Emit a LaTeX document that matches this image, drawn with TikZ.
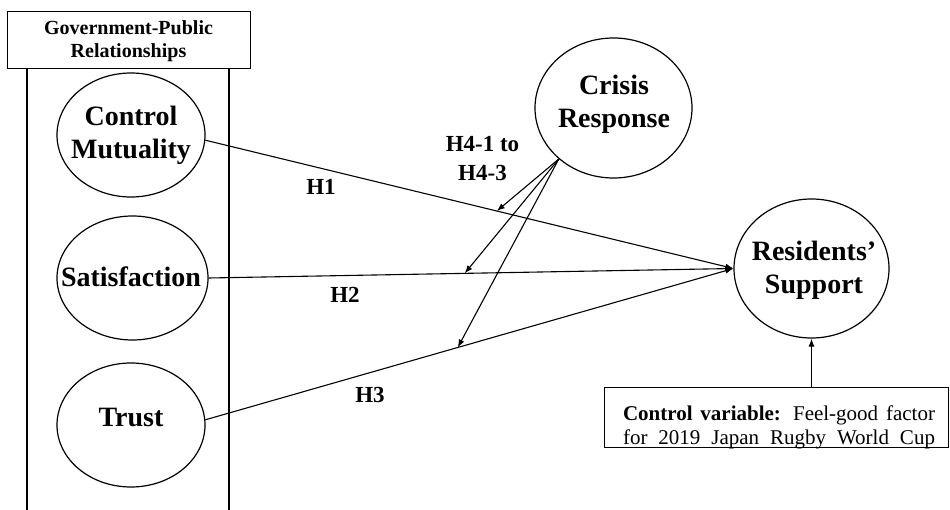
\documentclass[tikz,border=0pt]{standalone}
\usepackage{fontspec}
\setmainfont{Liberation Serif}
\usetikzlibrary{shapes.geometric,arrows.meta}
\begin{document}
\begin{tikzpicture}[x=1pt,y=-1pt,
  latent/.style={draw, ellipse, line width=1.2pt, inner sep=0pt},
  frame/.style={draw, line width=1.2pt, inner sep=0pt, anchor=north west},
  biglbl/.style={font=\fontsize{28}{33}\selectfont\bfseries, align=center, inner sep=0pt},
  hlbl/.style={font=\fontsize{23}{29.3}\selectfont\bfseries, align=center, inner sep=0pt},
  arr/.style={-{Latex[length=8pt,width=6pt]}, line width=1.1pt},
  plain/.style={line width=1.2pt}
]
\useasboundingbox (0,0) rectangle (950,510);

% header and frame
\node[frame, minimum width=243pt, minimum height=57pt] (hdr) at (7,11) {};
\node[font=\fontsize{20}{23}\selectfont\bfseries, align=center, inner sep=0pt] (hdrtext) at (128.5,41) {Government-Public\\Relationships};
\coordinate (lb) at (27,510);
\coordinate (rb) at (229,510);
\draw[plain] (lb |- hdr.south) -- (lb);
\draw[plain] (rb |- hdr.south) -- (rb);

% latent variables
\node[latent, minimum width=148pt, minimum height=124pt] (cm) at (131,135) {};
\node[biglbl] (cmt) at (131,135) {Control\\Mutuality};
\node[latent, minimum width=151pt, minimum height=124pt] (sat) at (132.5,278) {};
\node[biglbl] (satt) at (131,277) {Satisfaction};
\node[latent, minimum width=148pt, minimum height=124pt] (tr) at (131,425) {};
\node[biglbl] (trt) at (131,418) {Trust};
\node[latent, minimum width=157pt, minimum height=140pt] (cr) at (613.5,108) {};
\node[biglbl] (crt) at (614,104) {Crisis\\Response};
\node[latent, minimum width=155pt, minimum height=139pt] (rs) at (811.5,268.5) {};
\node[biglbl] (rst) at (814,270) {Residents’\\Support};

% control variable box
\node[frame, minimum width=344pt, minimum height=60pt] (cv) at (604,387) {};
\node[inner sep=0pt, anchor=base] (cvt) at (779,420) {\parbox[t]{312pt}{\fontsize{21}{24}\selectfont\parfillskip=0pt\textbf{Control variable:} Feel-good factor\linebreak for 2019 Japan Rugby World Cup}};

% paths
\draw[arr] (cm.-4) -- coordinate[pos=0.552] (h1p) (rs.west);
\draw[arr] (sat.east) -- coordinate[pos=0.488] (h2p) (rs.west);
\draw[arr] (tr.4) -- coordinate[pos=0.478] (h3p) (rs.west);
\draw[arr] (cr.223) -- (h1p);
\draw[arr] (cr.223) -- (h2p);
\draw[arr] (cr.223) -- (h3p);
\draw[arr] (cv.north -| rs.south) -- (rs.south);

% labels
\node[hlbl] (h1) at (321,187) {H1};
\node[hlbl] (h2) at (345,295) {H2};
\node[hlbl] (h3) at (370,395) {H3};
\node[hlbl] (h4) at (482.5,158.5) {H4-1 to\\H4-3};
\end{tikzpicture}
\end{document}
